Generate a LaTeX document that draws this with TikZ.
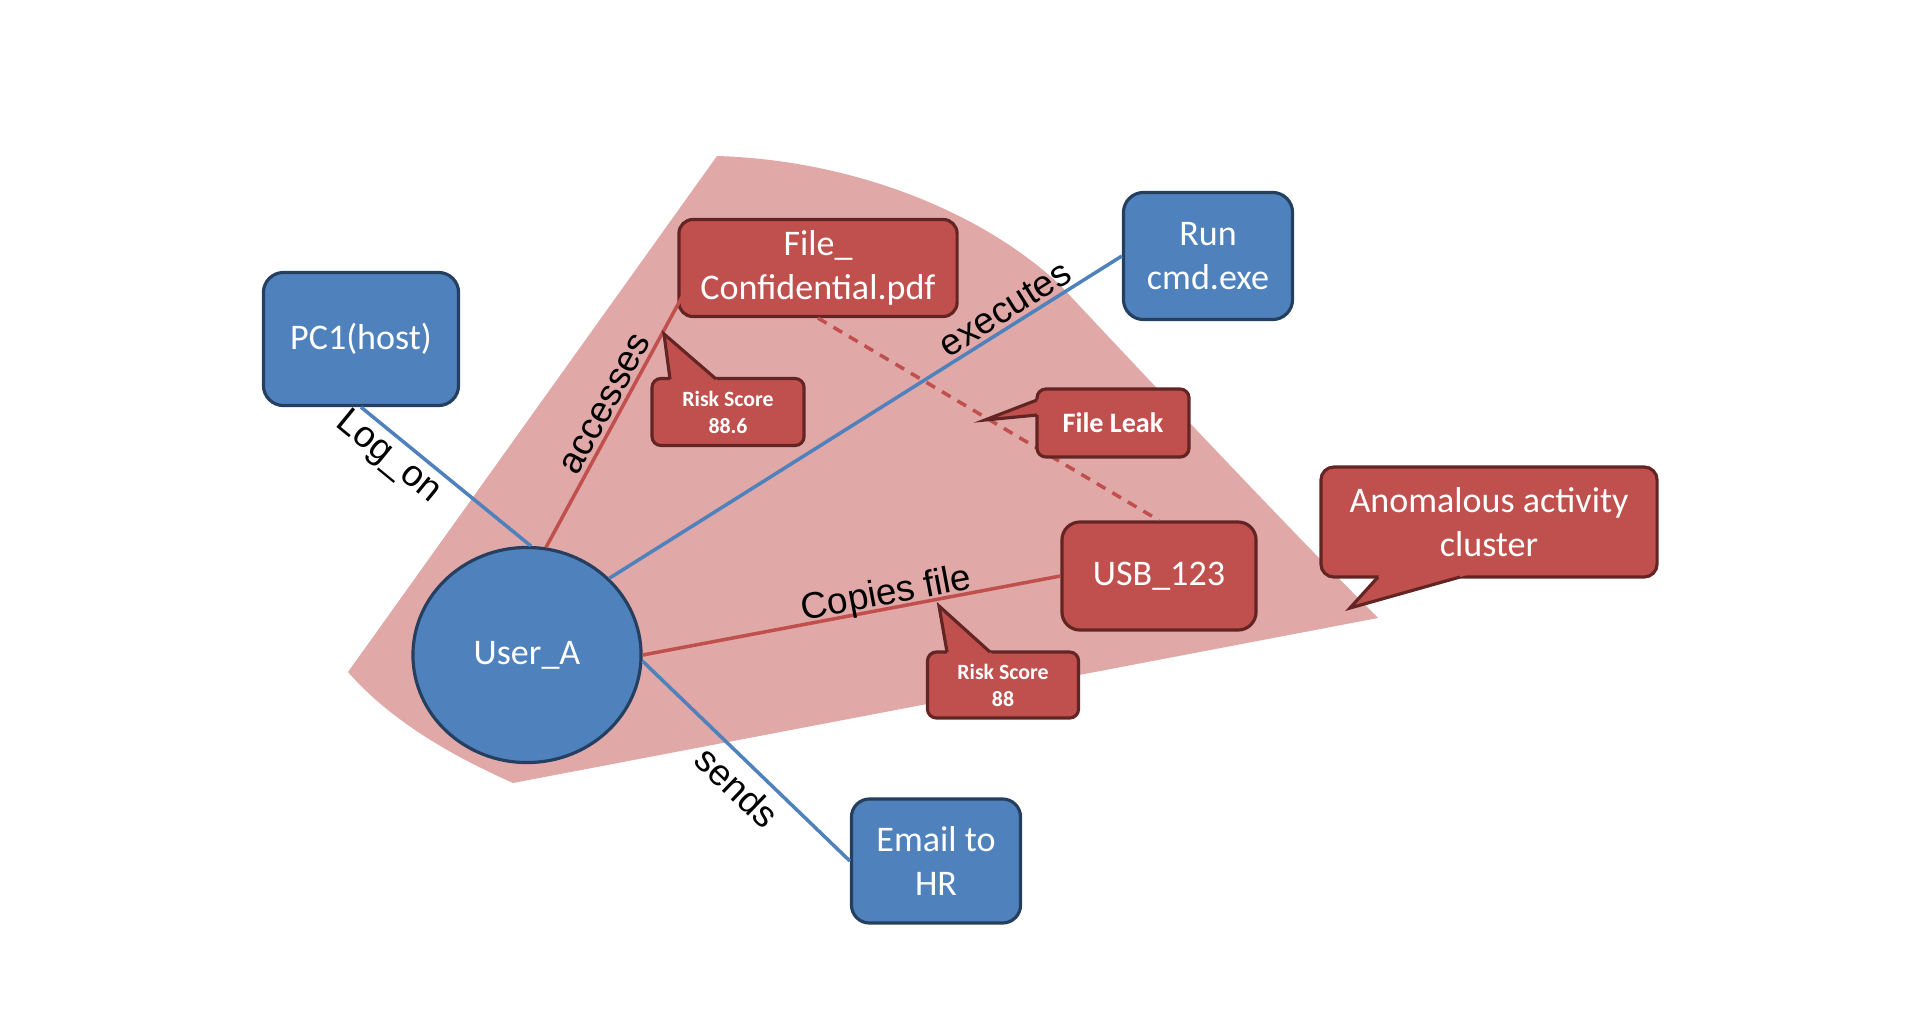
\documentclass[tikz,border=0pt]{standalone}
\usepackage{fontspec}
\setmainfont{Carlito}
\newfontfamily\labelfont{Liberation Sans}
\usetikzlibrary{shapes.geometric}
\definecolor{bluefill}{RGB}{79,129,189}
\definecolor{blueline}{RGB}{36,63,96}
\definecolor{redfill}{RGB}{192,80,77}
\definecolor{redline}{RGB}{99,37,35}
\definecolor{clusterbg}{RGB}{224,168,167}

\begin{document}
\begin{tikzpicture}[x=0.01cm, y=-0.01cm,
    B/.style={draw=blueline, fill=bluefill, line width=0.9pt, rounded corners=0.2cm, inner sep=1pt,
      text=white, align=center, font=\fontsize{10.25}{12.3}\selectfont},
    R/.style={B, draw=redline, fill=redfill},
    C/.style={R, rounded corners=0.09cm, font=\bfseries\fontsize{6.2}{7.7}\selectfont},
    BE/.style={draw=bluefill, line width=1pt},
    RE/.style={draw=redfill, line width=1pt},
    L/.style={font=\labelfont\fontsize{10.5}{12}\selectfont, sloped, inner sep=1pt},
    PL/.style={draw=redline, line width=0.9pt}
  ]
  \useasboundingbox (0,0) rectangle (1919,1015);

  % cluster
  \fill[clusterbg] (717,156) .. controls (850,160) and (980,210) .. (1060,285)
    .. controls (1130,360) and (1290,530) .. (1378,618) -- (513,783)
    .. controls (450,755) and (390,720) .. (348,672) -- cycle;

  % entities
  \node[B, minimum width=1.95cm, minimum height=1.33cm] (pc) at (361,339) {PC1(host)};
  \node[B, minimum width=1.69cm, minimum height=1.27cm] (run) at (1208,256) {Run\\cmd.exe};
  \node[R, minimum width=2.78cm, minimum height=0.97cm, rounded corners=0.14cm] (file) at (818,268) {File\_\\Confidential.pdf};
  \node[R, minimum width=1.94cm, minimum height=1.08cm, rounded corners=0.18cm] (usb) at (1159,576) {USB\_123};
  \node[B, minimum width=1.69cm, minimum height=1.24cm, rounded corners=0.18cm] (email) at (936,861) {Email to\\HR};
  \node[B, ellipse, minimum width=2.28cm, minimum height=2.15cm] (user) at (527,655) {User\_A};

  % relations
  \draw[BE] (pc.south) -- node[L, below, pos=0.24] {Log\_on} (user.88);
  \draw[RE] (user.80) -- node[L, above] {accesses} ([shift={(16,-42)}]file.south west);
  \draw[BE] (user.43) -- node[L, above, pos=0.79] {executes} (run.west);
  \draw[RE] (user.east) -- node[L, above=-1.5pt, pos=0.59, inner sep=0pt] {Copies file} (usb.west);
  \draw[BE] (user.-3) -- node[L, below=0.6mm, pos=0.54] {sends} (email.west);
  \draw[RE, dash pattern=on 0.1cm off 0.08cm] (file.south) -- (usb.north);

  % callouts
  \node[C, minimum width=1.52cm, minimum height=0.67cm] (risk1) at (728,412) {Risk Score\\88.6};
  \fill[redfill] (670.4,382) -- (664,334) -- (719.5,382) -- cycle;
  \draw[PL] (670,379) -- (664,334) -- (716,379);

  \node[C, minimum width=1.51cm, minimum height=0.66cm] (risk2) at (1003,685) {Risk Score\\88};
  \fill[redfill] (947.5,655) -- (939,606) -- (993.3,655) -- cycle;
  \draw[PL] (947,652) -- (939,606) -- (990,652);

  \node[C, minimum width=1.52cm, minimum height=0.68cm, font=\bfseries\fontsize{8}{9.6}\selectfont] (leak) at (1113,423) {File Leak};
  \fill[redfill] (1040,398.8) -- (985,420) -- (1040,414.7) -- cycle;
  \draw[PL] (1037,400) -- (985,420) -- (1037,415);

  \node[R, minimum width=3.36cm, minimum height=1.10cm, rounded corners=0.13cm] (anom) at (1489,522) {Anomalous activity\\cluster};
  \fill[redfill] (1380.7,574) -- (1350,608) -- (1470.6,574) -- cycle;
  \draw[PL] (1378,577) -- (1350,608) -- (1460,577);
\end{tikzpicture}
\end{document}
